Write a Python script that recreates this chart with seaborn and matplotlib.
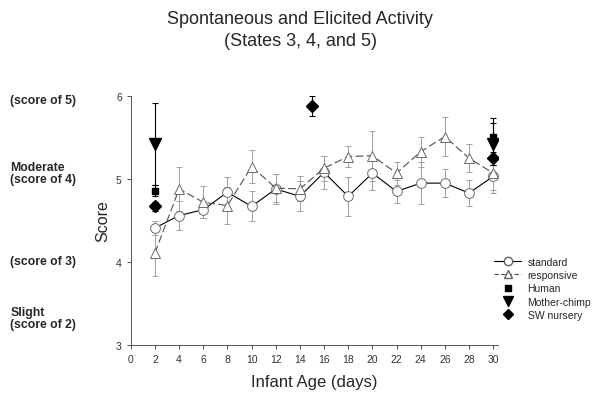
import numpy as np
import pandas as pd
import seaborn as sns
import matplotlib.pyplot as plt
from matplotlib import font_manager
from matplotlib.lines import Line2D

days = [2, 4, 6, 8, 10, 12, 14, 16, 18, 20, 22, 24, 26, 28, 30]
standard = [4.41, 4.56, 4.63, 4.84, 4.67, 4.88, 4.79, 5.08, 4.79, 5.07, 4.85, 4.95, 4.95, 4.83, 5.03]
standard_err = [0.08, 0.18, 0.10, 0.18, 0.18, 0.18, 0.18, 0.20, 0.23, 0.20, 0.14, 0.25, 0.17, 0.16, 0.20]
responsive = [4.11, 4.88, 4.72, 4.68, 5.15, 4.89, 4.88, 5.13, 5.27, 5.28, 5.07, 5.33, 5.51, 5.25, 5.07]
responsive_err = [0.28, 0.26, 0.19, 0.22, 0.20, 0.17, 0.15, 0.15, 0.13, 0.30, 0.14, 0.18, 0.23, 0.17, 0.20]

human_days = [2, 30]
human = [4.86, 5.51]
human_err = [0.07, 0.22]
chimp_days = [2, 30]
chimp = [5.42, 5.42]
chimp_err = [0.49, 0.25]
sw_days = [2, 15, 30]
sw = [4.67, 5.88, 5.25]
sw_err = [0.05, 0.12, 0.08]

df = pd.DataFrame({
    'day': days * 2,
    'score': standard + responsive,
    'group': ['standard'] * len(days) + ['responsive'] * len(days),
})

# keep the narrow variant out of font matching
font_manager.fontManager.ttflist = [f for f in font_manager.fontManager.ttflist
                                    if 'Narrow' not in f.fname]

sns.set_style('ticks')
plt.rcParams['font.family'] = ['Liberation Sans', 'DejaVu Sans']

fig = plt.figure(figsize=(6, 4.02), dpi=100)
ax = fig.add_axes([0.218, 0.139, 0.612, 0.62])

# error bars first so markers sit on top
ax.errorbar(days, standard, yerr=standard_err, fmt='none', ecolor='#a0a0a0',
            elinewidth=0.7, capsize=2.5, capthick=0.7, zorder=1)
ax.errorbar(days, responsive, yerr=responsive_err, fmt='none', ecolor='#a0a0a0',
            elinewidth=0.7, capsize=2.5, capthick=0.7, zorder=1)

sns.lineplot(data=df, x='day', y='score', style='group', ax=ax,
             markers={'standard': 'o', 'responsive': '^'},
             dashes={'standard': '', 'responsive': (7, 3)},
             color='black', lw=0.8, markersize=7, markerfacecolor='white',
             markeredgecolor='#6a6a6a', markeredgewidth=0.7, legend=False, zorder=2)
ax.lines[-1].set_color('#505050')

ax.errorbar(human_days, human, yerr=human_err, fmt='s', color='black', ms=5,
            elinewidth=0.8, capsize=2.5, capthick=0.8, zorder=3)
ax.errorbar(chimp_days, chimp, yerr=chimp_err, fmt='v', color='black', ms=8,
            elinewidth=0.8, capsize=2.5, capthick=0.8, zorder=3)
ax.errorbar(sw_days, sw, yerr=sw_err, fmt='D', color='black', ms=6,
            elinewidth=0.8, capsize=2.5, capthick=0.8, zorder=3)

ax.set_xlim(0, 30.4)
ax.set_ylim(3, 6)
ax.set_xticks(range(0, 31, 2))
ax.set_yticks([3, 4, 5, 6])
ax.tick_params(labelsize=7.5, length=3, width=0.6, colors='#333333')
for s in ['left', 'bottom']:
    ax.spines[s].set_linewidth(0.7)
    ax.spines[s].set_color('#555555')
sns.despine(ax=ax)
ax.set_xlabel('Infant Age (days)', fontsize=12, labelpad=7)
ax.set_ylabel('Score', fontsize=11.5)

fig.text(0.5, 0.972, 'Spontaneous and Elicited Activity\n(States 3, 4, and 5)',
         ha='center', va='top', fontsize=13, linespacing=1.35)

side = [(101, '(score of 5)'), (174, 'Moderate\n(score of 4)'),
        (262, '(score of 3)'), (319, 'Slight\n(score of 2)')]
for py, txt in side:
    fig.text(0.017, 1 - py / 402, txt, ha='left', va='center', fontsize=8.8,
             fontweight='bold', linespacing=1.05)

handles = [
    Line2D([], [], color='black', lw=0.8, marker='o', ms=6, mfc='white', mec='#606060'),
    Line2D([], [], color='#505050', lw=0.8, ls=(0, (4, 2)), marker='^', ms=6, mfc='white', mec='#606060'),
    Line2D([], [], color='black', ls='none', marker='s', ms=4),
    Line2D([], [], color='black', ls='none', marker='v', ms=7),
    Line2D([], [], color='black', ls='none', marker='D', ms=5),
]
labels = ['standard', 'responsive', 'Human', 'Mother-chimp', 'SW nursery']
fig.legend(handles, labels, loc='center left', bbox_to_anchor=(0.808, 0.28),
           frameon=False, fontsize=7.5, handlelength=2.6, labelspacing=0.32,
           handletextpad=0.6)

fig.savefig('out.png', dpi=100)
